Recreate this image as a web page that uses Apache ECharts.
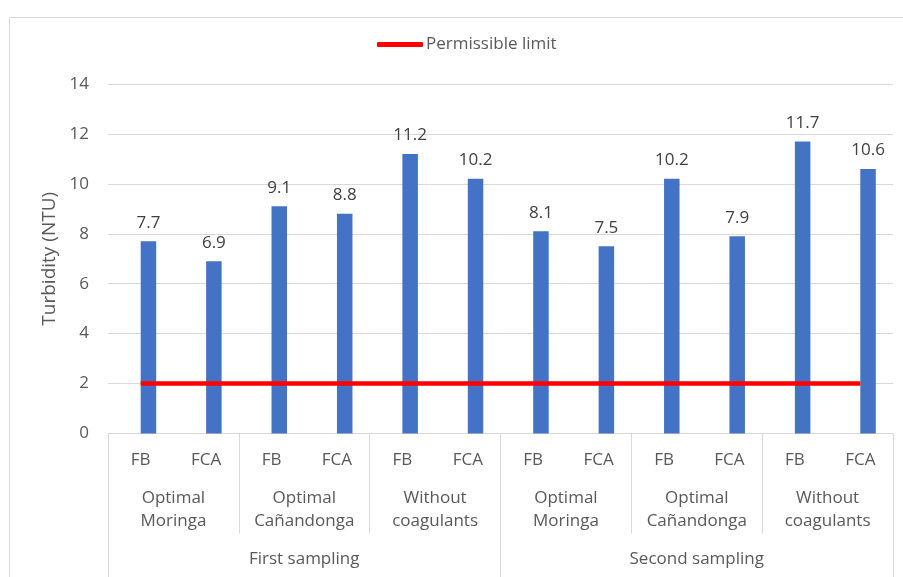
<!DOCTYPE html>
<html>
<head>
<meta charset="utf-8">
<script src="https://cdn.jsdelivr.net/npm/echarts@6/dist/echarts.min.js"></script>
<style>
  html, body { margin: 0; padding: 0; background: #fff; }
  #main { width: 903px; height: 577px; }
</style>
</head>
<body>
<div id="main"></div>
<script>
// filtros por tratamiento
var filters = ['FB', 'FCA', 'FB', 'FCA', 'FB', 'FCA', 'FB', 'FCA', 'FB', 'FCA', 'FB', 'FCA'];
var treatments = ['Optimal\nMoringa', 'Optimal\nCañandonga', 'Without\ncoagulants',
                  'Optimal\nMoringa', 'Optimal\nCañandonga', 'Without\ncoagulants'];
var samplings = ['First sampling', 'Second sampling'];
var turbidity = [7.7, 6.9, 9.1, 8.8, 11.2, 10.2, 8.1, 7.5, 10.2, 7.9, 11.7, 10.6];
var limit = [2, 2, 2, 2, 2, 2, 2, 2, 2, 2, 2, 2];
var emptyData = ['-', '-', '-', '-', '-', '-', '-', '-', '-', '-', '-', '-'];

var txt = '#595959';
var lineGray = '#d9d9d9';
var font = 'Open Sans';

var chart = echarts.init(document.getElementById('main'));

var option = {
    backgroundColor: '#ffffff',
    animation: false,
    textStyle: { fontFamily: font },
    graphic: [{
        type: 'rect',
        shape: { x: 9.5, y: 17.5, width: 905, height: 570 },
        style: { fill: 'none', stroke: lineGray, lineWidth: 1 },
        silent: true
    }],
    legend: {
        left: 372,
        top: 31,
        data: ['Permissible limit'],
        icon: 'roundRect',
        itemWidth: 46,
        itemHeight: 5,
        textStyle: { color: txt, fontSize: 17, fontFamily: font, padding: [0, 0, 0, -2] }
    },
    grid: {
        left: 108,
        right: 10,
        top: 84,
        bottom: 143.5
    },
    xAxis: [
        {
            type: 'category',
            data: filters,
            position: 'bottom',
            axisLine: { show: true, lineStyle: { color: lineGray, width: 1 } },
            axisTick: { show: false },
            axisLabel: { color: txt, fontSize: 17, margin: 18, interval: 0 }
        },
        {
            type: 'category',
            data: treatments,
            position: 'bottom',
            axisLine: { show: false },
            axisTick: { show: true, length: 100, lineStyle: { color: lineGray } },
            axisLabel: { color: txt, fontSize: 17, margin: 53, lineHeight: 23, interval: 0 }
        },
        {
            type: 'category',
            data: samplings,
            position: 'bottom',
            axisLine: { show: false },
            axisTick: { show: true, length: 150, lineStyle: { color: lineGray } },
            axisLabel: { color: txt, fontSize: 17, margin: 117, interval: 0 }
        }
    ],
    yAxis: {
        type: 'value',
        min: 0,
        max: 14,
        interval: 2,
        name: 'Turbidity (NTU)',
        nameLocation: 'middle',
        nameGap: 45,
        nameTextStyle: { color: txt, fontSize: 19, fontFamily: font },
        axisLine: { show: false },
        axisTick: { show: false },
        axisLabel: { color: txt, fontSize: 17, margin: 19 },
        splitLine: { lineStyle: { color: lineGray, width: 1 } }
    },
    series: [
        {
            name: 'blank',
            type: 'bar',
            data: emptyData,
            barWidth: 15.5,
            barGap: '0%'
        },
        {
            name: 'Turbidity',
            type: 'bar',
            data: turbidity,
            barWidth: 15.5,
            barGap: '0%',
            itemStyle: { color: '#4472c4' },
            label: {
                show: true,
                position: 'top',
                distance: 10,
                color: '#404040',
                fontSize: 17,
                fontFamily: font
            }
        },
        {
            name: 'Permissible limit',
            type: 'line',
            data: limit,
            symbol: 'none',
            itemStyle: { color: '#ff0000' },
            lineStyle: { color: '#ff0000', width: 4.5 },
            z: 5
        }
    ]
};

chart.setOption(option);
</script>
</body>
</html>
